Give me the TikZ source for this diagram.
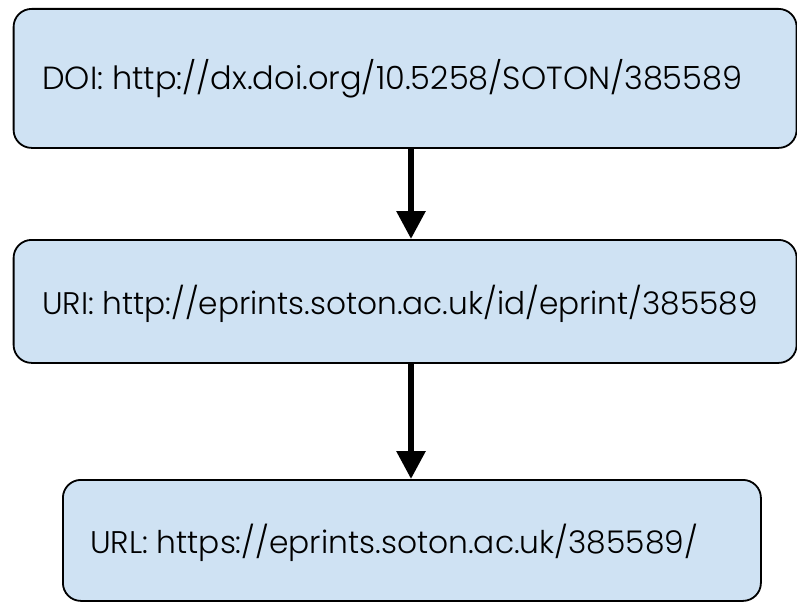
\documentclass[tikz,border=0pt]{standalone}
\usepackage{fontspec}
\setmainfont{Poppins}[UprightFont=*-Light]
\usetikzlibrary{arrows.meta}
\definecolor{boxfill}{HTML}{CFE2F3}
\tikzset{
  idbox/.style={draw=black, line width=1.8pt, fill=boxfill, rounded corners=18pt,
    anchor=north west, inner sep=0pt},
  idtext/.style={anchor=base west, inner sep=0pt},
  bigarrow/.style={line width=6pt, -{Triangle[width=28pt,length=28pt]}}
}
\begin{document}
\begin{tikzpicture}[x=1pt,y=-1pt]
\useasboundingbox (0,0) rectangle (797,602);
\fill[white] (0,0) rectangle (797,602);
\node[idbox, minimum width=783pt, minimum height=139pt] (b1) at (12.7,8) {};
\node[idbox, minimum width=783pt, minimum height=123pt] (b2) at (12.7,239) {};
\node[idbox, minimum width=698pt, minimum height=121pt] (b3) at (62,479) {};
\node[idtext, font=\fontsize{32}{36}\selectfont] (t1) at (42,89) {DOI: http://dx.doi.org/10.5258/SOTON/385589};
\node[idtext, font=\fontsize{31.2}{36}\selectfont] (t2) at (42,314) {URI: http://eprints.soton.ac.uk/id/eprint/385589};
\node[idtext, font=\fontsize{31.3}{36}\selectfont] (t3) at (90,553) {URL: https://eprints.soton.ac.uk/385589/};
\coordinate (ax) at (411,0);
\draw[bigarrow] (b1.south -| ax) -- (b2.north -| ax);
\draw[bigarrow] (b2.south -| ax) -- (b3.north -| ax);
\end{tikzpicture}
\end{document}
